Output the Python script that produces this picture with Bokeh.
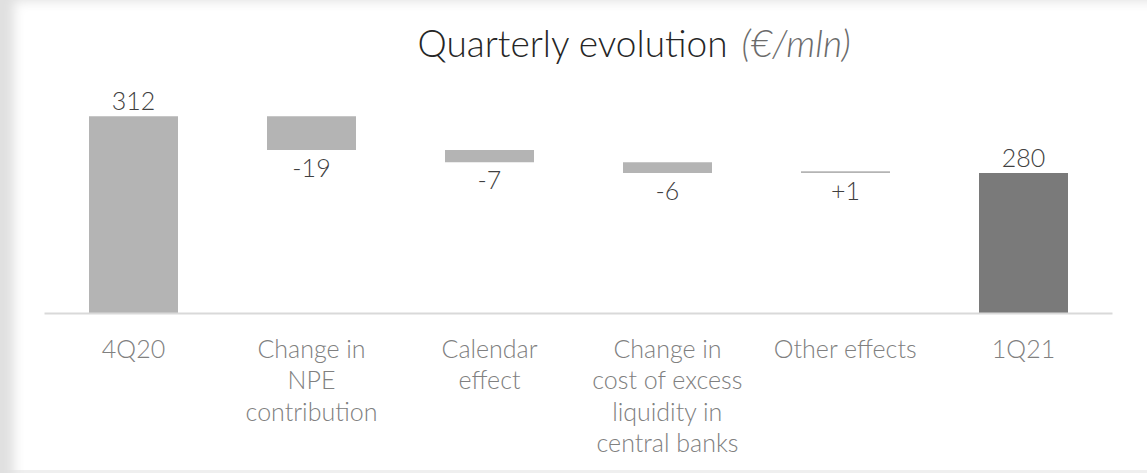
from bokeh.plotting import figure
from bokeh.models import ColumnDataSource, Label, FactorRange, Range1d
from bokeh.core.properties import value
from bokeh.embed import file_html
from bokeh.resources import INLINE

# ---- data ----
categories = ["4Q20", "Change in\nNPE\ncontribution", "Calendar\neffect",
              "Change in\ncost of excess\nliquidity in\ncentral banks",
              "Other effects", "1Q21"]
values = [312, -19, -7, -6, 1, 280]
kinds = ["total", "delta", "delta", "delta", "delta", "total"]

FONT_NAME = "Lato Light, Lato"
FONT = value(FONT_NAME)
LIGHT = "#b4b4b4"
DARK = "#7a7a7a"

# ---- waterfall geometry ----
bottoms, tops, colors = [], [], []
running = 0
for v, k in zip(values, kinds):
    if k == "total":
        b, t = 0, v
        running = v
        colors.append(LIGHT if v == values[0] else DARK)
    else:
        b, t = running, running + v
        running += v
        colors.append(LIGHT)
    bottoms.append(min(b, t))
    tops.append(max(b, t))

bars = ColumnDataSource(dict(x=categories, bottom=bottoms, top=tops, color=colors))

above_idx = [i for i, k in enumerate(kinds) if k == "total"]
below_idx = [i for i, k in enumerate(kinds) if k == "delta"]
above = ColumnDataSource(dict(
    x=[categories[i] for i in above_idx],
    y=[tops[i] for i in above_idx],
    t=[str(values[i]) for i in above_idx]))
below = ColumnDataSource(dict(
    x=[categories[i] for i in below_idx],
    y=[bottoms[i] for i in below_idx],
    t=[("+%d" % values[i]) if values[i] > 0 else str(values[i]) for i in below_idx]))

Y0 = 200.5
PX_PER_UNIT = 1.768
FRAME_H = 313
y_end = Y0 + FRAME_H / PX_PER_UNIT

p = figure(width=1147, height=473, x_range=FactorRange(*categories),
           y_range=Range1d(Y0, y_end), output_backend="svg",
           toolbar_location=None, y_axis_location=None,
           min_border_top=0, min_border_bottom=160,
           min_border_left=44, min_border_right=35)
p.outline_line_color = None
p.grid.visible = False
p.background_fill_color = None
p.border_fill_color = None
p.styles = {"box-shadow": "inset 22px 9px 12px -8px #e0e0e0, inset 0px -3px 0px 0px #efefef",
            "background-color": "white"}

p.vbar(x="x", bottom="bottom", top="top", width=0.5, color="color",
       line_color=None, source=bars)

p.text(x="x", y="y", text="t", source=above, text_align="center",
       text_baseline="alphabetic", y_offset=-15, text_font=FONT,
       text_font_size="25px", text_color="#404040")
p.text(x="x", y="y", text="t", source=below, text_align="center",
       text_baseline="alphabetic", y_offset=18, text_font=FONT,
       text_font_size="25px", text_color="#404040")

ax = p.xaxis[0]
ax.axis_line_color = "#d9d9d9"
ax.axis_line_width = 2
ax.major_tick_line_color = None
ax.minor_tick_line_color = None
ax.major_label_text_font = FONT_NAME
ax.major_label_text_font_size = "25px"
ax.major_label_text_color = "#808080"
ax.major_label_text_line_height = 1.05
ax.major_label_standoff = 13

title_y = Y0 + (313 - 41.5) / PX_PER_UNIT
p.add_layout(Label(x=2.096, y=title_y, text="Quarterly evolution",
                   text_align="left", text_baseline="alphabetic",
                   text_font=FONT_NAME, text_font_size="37px",
                   text_color="#262626"))
p.add_layout(Label(x=3.916, y=title_y, text="(€/mln)",
                   text_align="left", text_baseline="alphabetic",
                   text_font=FONT_NAME, text_font_style="italic",
                   text_font_size="37px", text_color="#6b6b6b"))

open("out.html", "w").write(file_html(p, INLINE))
